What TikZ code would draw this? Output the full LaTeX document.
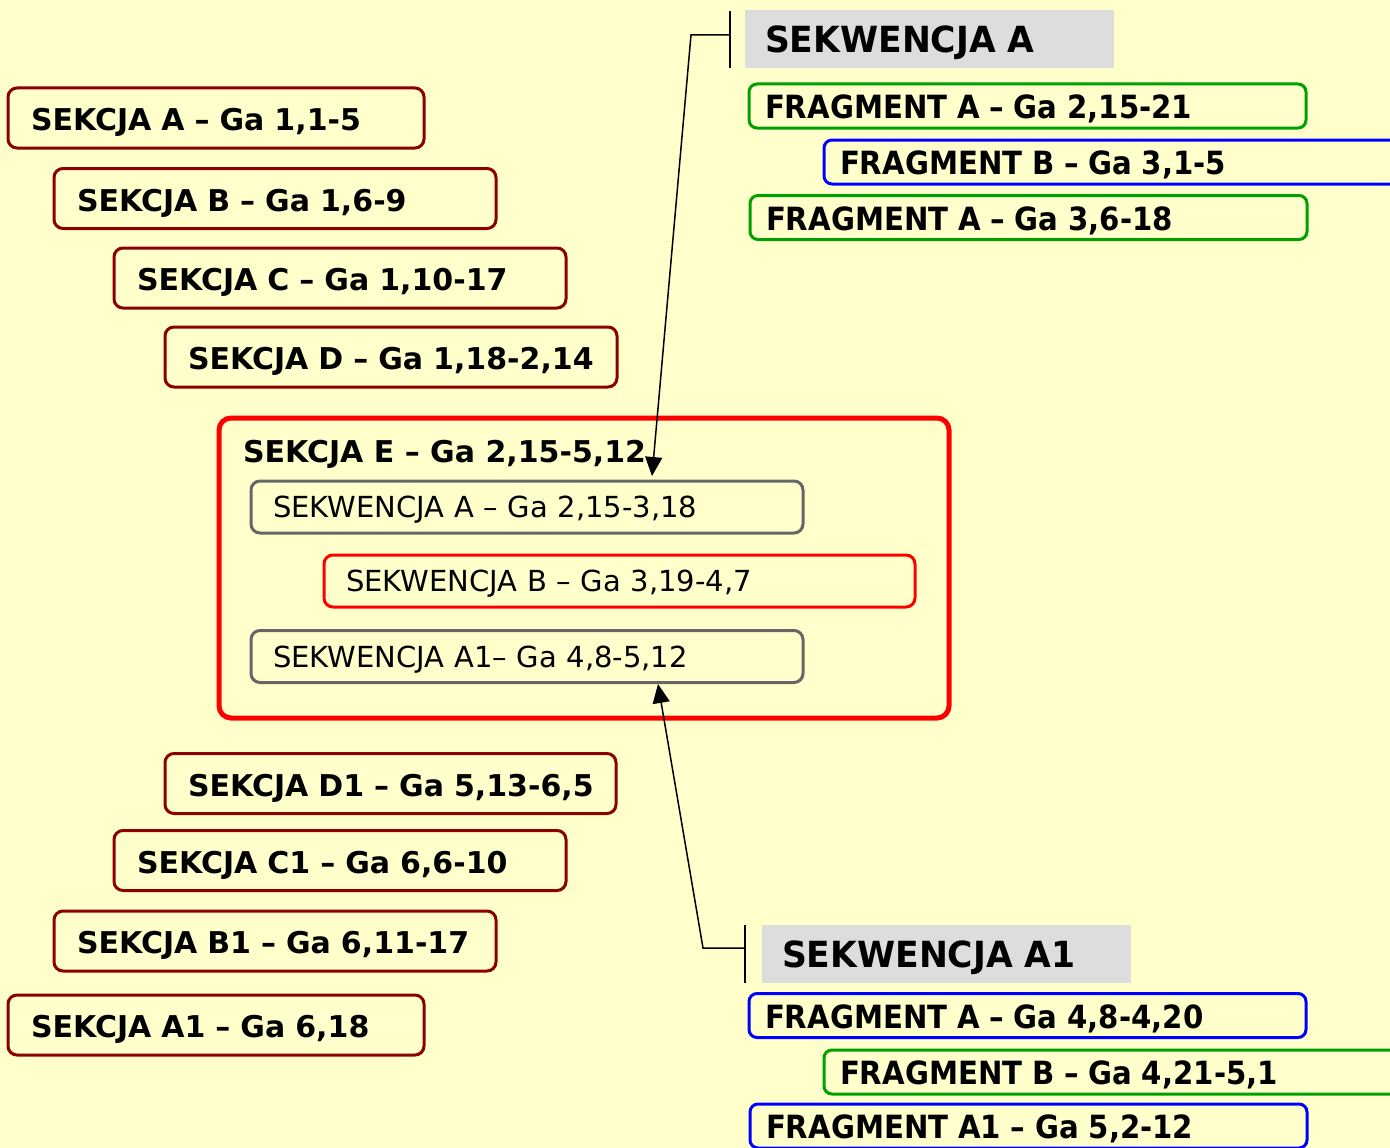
\documentclass[tikz,border=0pt]{standalone}
\usepackage{fontspec}
\setmainfont{DejaVu Sans}
\usepackage{graphicx}
\usetikzlibrary{arrows.meta}
\definecolor{bg}{HTML}{FFFFCC}
\definecolor{dred}{HTML}{8B0000}
\definecolor{gbord}{HTML}{666666}
\definecolor{gfill}{HTML}{DDDDDD}
\definecolor{fgreen}{HTML}{00A000}
\definecolor{fblue}{HTML}{0000FF}
\newcommand\hsF[1]{\scalebox{0.913}[1]{#1}}
\newcommand\hsT[1]{\scalebox{0.96}[1]{#1}}
\tikzset{
  every node/.style={outer sep=0pt},
  sek/.style={draw=dred, line width=3pt, rounded corners=9pt, anchor=west, inner xsep=23pt, minimum height=60pt, align=left, text height=25.9pt, text depth=0pt, font=\fontsize{30}{34}\selectfont\bfseries},
  seq/.style={draw=gbord, line width=3pt, rounded corners=9pt, anchor=west, inner xsep=22pt, minimum height=52pt, align=left, text height=21.1pt, text depth=0pt, font=\fontsize{29}{33}\selectfont},
  frag/.style={line width=3pt, rounded corners=8pt, anchor=west, inner xsep=16pt, minimum height=44pt, align=left, text height=25.3pt, text depth=0pt, font=\fontsize{32}{36}\selectfont\bfseries},
  ttl/.style={fill=gfill, anchor=west, inner xsep=20pt, minimum height=58pt, align=left, text height=27.2pt, text depth=0pt, font=\fontsize{36}{40}\selectfont\bfseries},
  conn/.style={line width=1.5pt},
  arr/.style={line width=1.5pt, -{Triangle[length=19pt,width=17pt]}}
}
\begin{document}
\begin{tikzpicture}[x=1pt,y=-1pt]
\fill[bg] (0,0) rectangle (1390,1148);
\useasboundingbox (0,0) rectangle (1390,1148);
% left sections
\node[sek, text width=370pt] (sa) at (8,118) {\mbox{SEKCJA A – Ga 1,1-5}};
\node[sek, text width=396pt] (sb) at (54,198.5) {\mbox{SEKCJA B – Ga 1,6-9}};
\node[sek, text width=406pt] (sc) at (114,278) {\mbox{SEKCJA C – Ga 1,10-17}};
\node[sek, text width=406pt] (sd) at (165,357) {\mbox{SEKCJA D – Ga 1,18-2,14}};
% big E box
\node[draw=red, line width=5pt, rounded corners=12pt, anchor=north west, minimum width=730pt, minimum height=300pt] (se) at (219,418) {};
\node[anchor=west, inner sep=0pt, text height=21.9pt, text depth=0pt, font=\fontsize{30}{34}\selectfont\bfseries] (setitle) at (243,452) {SEKCJA E – Ga 2,15-5,12};
\node[seq, text width=508pt] (qa) at (251,507) {\mbox{SEKWENCJA A – Ga 2,15-3,18}};
\node[seq, draw=red, text width=547pt] (qb) at (324,581) {\mbox{SEKWENCJA B – Ga 3,19-4,7}};
\node[seq, text width=508pt] (qa1) at (251,656.5) {\mbox{SEKWENCJA A1– Ga 4,8-5,12}};
% lower sections
\node[sek, text width=405pt] (sd1) at (165,783.5) {\mbox{SEKCJA D1 – Ga 5,13-6,5}};
\node[sek, text width=406pt] (sc1) at (114,860.5) {\mbox{SEKCJA C1 – Ga 6,6-10}};
\node[sek, text width=396pt] (sb1) at (54,941) {\mbox{SEKCJA B1 – Ga 6,11-17}};
\node[sek, text width=370pt] (sa1) at (8,1025) {\mbox{SEKCJA A1 – Ga 6,18}};
% top right
\node[ttl, text width=329pt] (tA) at (745,39) {\hsT{SEKWENCJA A}};
\node[frag, draw=fgreen, text width=525pt] (fa) at (749,106) {\hsF{FRAGMENT A – Ga 2,15-21}};
\node[frag, draw=fblue, text width=600pt] (fb) at (824,162) {\hsF{FRAGMENT B – Ga 3,1-5}};
\node[frag, draw=fgreen, text width=525pt] (fa2) at (750,217.5) {\hsF{FRAGMENT A – Ga 3,6-18}};
% bottom right
\node[ttl, text width=329pt] (tA1) at (762,954) {\hsT{SEKWENCJA A1}};
\node[frag, draw=fblue, text width=525pt] (ga) at (749,1015.5) {\hsF{FRAGMENT A – Ga 4,8-4,20}};
\node[frag, draw=fgreen, text width=600pt] (gb) at (824,1072) {\hsF{FRAGMENT B – Ga 4,21-5,1}};
\node[frag, draw=fblue, text width=525pt] (ga1) at (750,1126) {\hsF{FRAGMENT A1 – Ga 5,2-12}};
% connectors top
\coordinate (bt1) at (730,11);
\coordinate (bt2) at (730,68);
\coordinate (bt3) at (730,35);
\coordinate (bk1) at (691,35);
\coordinate (tipA) at (652,476);
\draw[conn] (bt1) -- (bt2);
\draw[arr] (bt3) -- (bk1) -- (tipA);
% connectors bottom
\coordinate (bb1) at (745,925);
\coordinate (bb2) at (745,983);
\coordinate (bb3) at (745,948);
\coordinate (bk2) at (703,948);
\coordinate (tipB) at (658,684);
\draw[conn] (bb1) -- (bb2);
\draw[arr] (bb3) -- (bk2) -- (tipB);
\end{tikzpicture}
\end{document}
